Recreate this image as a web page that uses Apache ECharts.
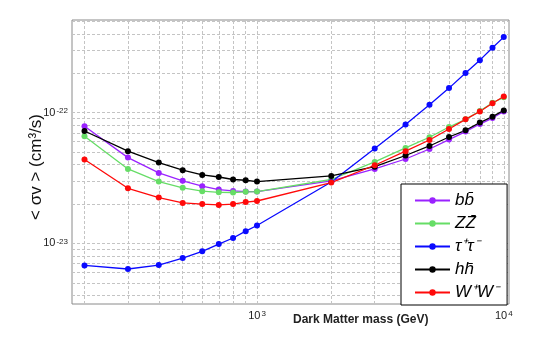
<!DOCTYPE html>
<html>
<head>
<meta charset="utf-8">
<script src="https://cdn.jsdelivr.net/npm/echarts@6/dist/echarts.min.js"></script>
<style>
  html, body { margin: 0; padding: 0; background: #fff; }
  #chart { width: 554px; height: 342px; }
</style>
</head>
<body>
<div id="chart"></div>
<script>
  // dark matter mass, GeV
  var masses = [200, 300, 400, 500, 600, 700, 800, 900, 1000, 2000, 3000, 4000, 5000, 6000, 7000, 8000, 9000, 10000]

  // <sigma v> limits, cm^3/s
  var bb = [7.86e-23, 4.53e-23, 3.46e-23, 3.01e-23, 2.74e-23, 2.58e-23, 2.52e-23, 2.49e-23, 2.49e-23, 3.01e-23, 3.71e-23, 4.42e-23, 5.27e-23, 6.22e-23, 7.16e-23, 8.18e-23, 9.09e-23, 1.02e-22]
  var zz = [6.59e-23, 3.71e-23, 2.97e-23, 2.66e-23, 2.51e-23, 2.46e-23, 2.45e-23, 2.48e-23, 2.49e-23, 3.08e-23, 4.20e-23, 5.37e-23, 6.48e-23, 7.76e-23, 8.89e-23, 1.03e-22, 1.19e-22, 1.31e-22]
  var tautau = [6.79e-24, 6.37e-24, 6.83e-24, 7.72e-24, 8.69e-24, 9.88e-24, 1.10e-23, 1.24e-23, 1.37e-23, 2.95e-23, 5.31e-23, 8.10e-23, 1.15e-22, 1.54e-22, 2.01e-22, 2.52e-22, 3.13e-22, 3.78e-22]
  var hh = [7.24e-23, 5.07e-23, 4.15e-23, 3.63e-23, 3.34e-23, 3.22e-23, 3.08e-23, 3.04e-23, 2.97e-23, 3.28e-23, 3.86e-23, 4.70e-23, 5.56e-23, 6.51e-23, 7.33e-23, 8.39e-23, 9.32e-23, 1.04e-22]
  var ww = [4.38e-23, 2.64e-23, 2.24e-23, 2.04e-23, 2.00e-23, 1.97e-23, 2.00e-23, 2.07e-23, 2.11e-23, 2.92e-23, 3.96e-23, 5.07e-23, 6.18e-23, 7.50e-23, 8.89e-23, 1.02e-22, 1.18e-22, 1.33e-22]

  var channelNames = ['bb\u0304', 'ZZ\u0304', '\u03c4\u207a\u03c4\u207b', 'hh\u0304', 'W\u207aW\u207b']

  // axis range
  var xMin = 178, xMax = 10500
  var yMin = 3.44e-24, yMax = 5.11e-22

  // log grid lines
  var xGrid = [200, 300, 400, 500, 600, 700, 800, 900, 1000, 2000, 3000, 4000, 5000, 6000, 7000, 8000, 9000, 10000]
  var yGrid = [4e-24, 5e-24, 6e-24, 7e-24, 8e-24, 9e-24, 1e-23, 2e-23, 3e-23, 4e-23, 5e-23, 6e-23, 7e-23, 8e-23, 9e-23, 1e-22, 2e-22, 3e-22, 4e-22, 5e-22]

  function powLabel(v) {
    var e = Math.log10(v)
    var r = Math.round(e)
    if (Math.abs(e - r) > 1e-6) {
      return ''
    }
    return '{b|10}{s|' + r + '}'
  }

  var richLabel = {
    b: { fontSize: 11, color: '#222', fontFamily: 'Liberation Sans' },
    s: { fontSize: 8, color: '#222', fontFamily: 'Liberation Sans', verticalAlign: 'top', padding: [0, 0, 0, 1] }
  }

  function makeSeries(name, data, color) {
    var pts = []
    for (var i = 0; i < masses.length; i++) {
      pts.push([masses[i], data[i]])
    }
    return {
      name: name,
      type: 'line',
      data: pts,
      z: 3,
      symbol: 'circle',
      symbolSize: 6,
      color: color,
      lineStyle: { width: 1.3, color: color },
      itemStyle: { color: color },
      animation: false
    }
  }

  var gridLines = []
  xGrid.forEach(function (v) { gridLines.push([{ coord: [v, yMin] }, { coord: [v, yMax] }]) })
  yGrid.forEach(function (v) { gridLines.push([{ coord: [xMin, v] }, { coord: [xMax, v] }]) })

  var chart = echarts.init(document.getElementById('chart'))

  chart.setOption({
    backgroundColor: '#fff',
    animation: false,
    textStyle: { fontFamily: 'Liberation Sans' },
    title: {
      text: 'Dark Matter mass (GeV)',
      left: 293,
      top: 314,
      padding: 0,
      textStyle: { fontSize: 12, fontWeight: 'bold', color: '#222', fontFamily: 'Liberation Sans' }
    },
    grid: {
      left: 72,
      right: 45,
      top: 20,
      bottom: 38,
      show: true,
      borderColor: '#8a8a8a',
      borderWidth: 1,
      backgroundColor: 'transparent'
    },
    legend: {
      data: channelNames,
      orient: 'vertical',
      left: 401,
      top: 184,
      padding: [8, 8, 4, 13],
      itemGap: 6,
      itemWidth: 35,
      itemHeight: 8,
      backgroundColor: '#fff',
      borderColor: '#000',
      borderWidth: 1,
      borderRadius: 0,
      textStyle: { fontSize: 17, fontStyle: 'italic', lineHeight: 17, color: '#000', fontFamily: 'Liberation Sans' }
    },
    xAxis: {
      type: 'log',
      logBase: 10,
      min: xMin,
      max: xMax,
      axisLine: { show: false },
      axisTick: { show: false },
      splitLine: { show: false },
      axisLabel: { margin: 6, formatter: powLabel, rich: richLabel, showMinLabel: false, showMaxLabel: false }
    },
    yAxis: {
      type: 'log',
      logBase: 10,
      min: yMin,
      max: yMax,
      name: '< \u03c3v > (cm\u00b3/s)',
      nameLocation: 'middle',
      nameGap: 27,
      nameMoveOverlap: false,
      nameTextStyle: { fontSize: 17, color: '#111', fontFamily: 'Liberation Sans', padding: [0, 10, 0, 0] },
      axisLine: { show: false },
      axisTick: { show: false },
      splitLine: { show: false },
      axisLabel: { margin: 4, formatter: powLabel, rich: richLabel, showMinLabel: false, showMaxLabel: false }
    },
    series: [
      {
        type: 'line',
        data: [],
        z: 1,
        silent: true,
        markLine: {
          silent: true,
          z: 1,
          symbol: ['none', 'none'],
          label: { show: false },
          lineStyle: { color: '#c4c4c4', type: [3, 2], width: 1 },
          emphasis: { disabled: true },
          animation: false,
          data: gridLines
        }
      },
      makeSeries(channelNames[0], bb, '#9a22ff'),
      makeSeries(channelNames[1], zz, '#66dd66'),
      makeSeries(channelNames[2], tautau, '#0a0aff'),
      makeSeries(channelNames[3], hh, '#000000'),
      makeSeries(channelNames[4], ww, '#ff0a0a')
    ]
  })
</script>
</body>
</html>
